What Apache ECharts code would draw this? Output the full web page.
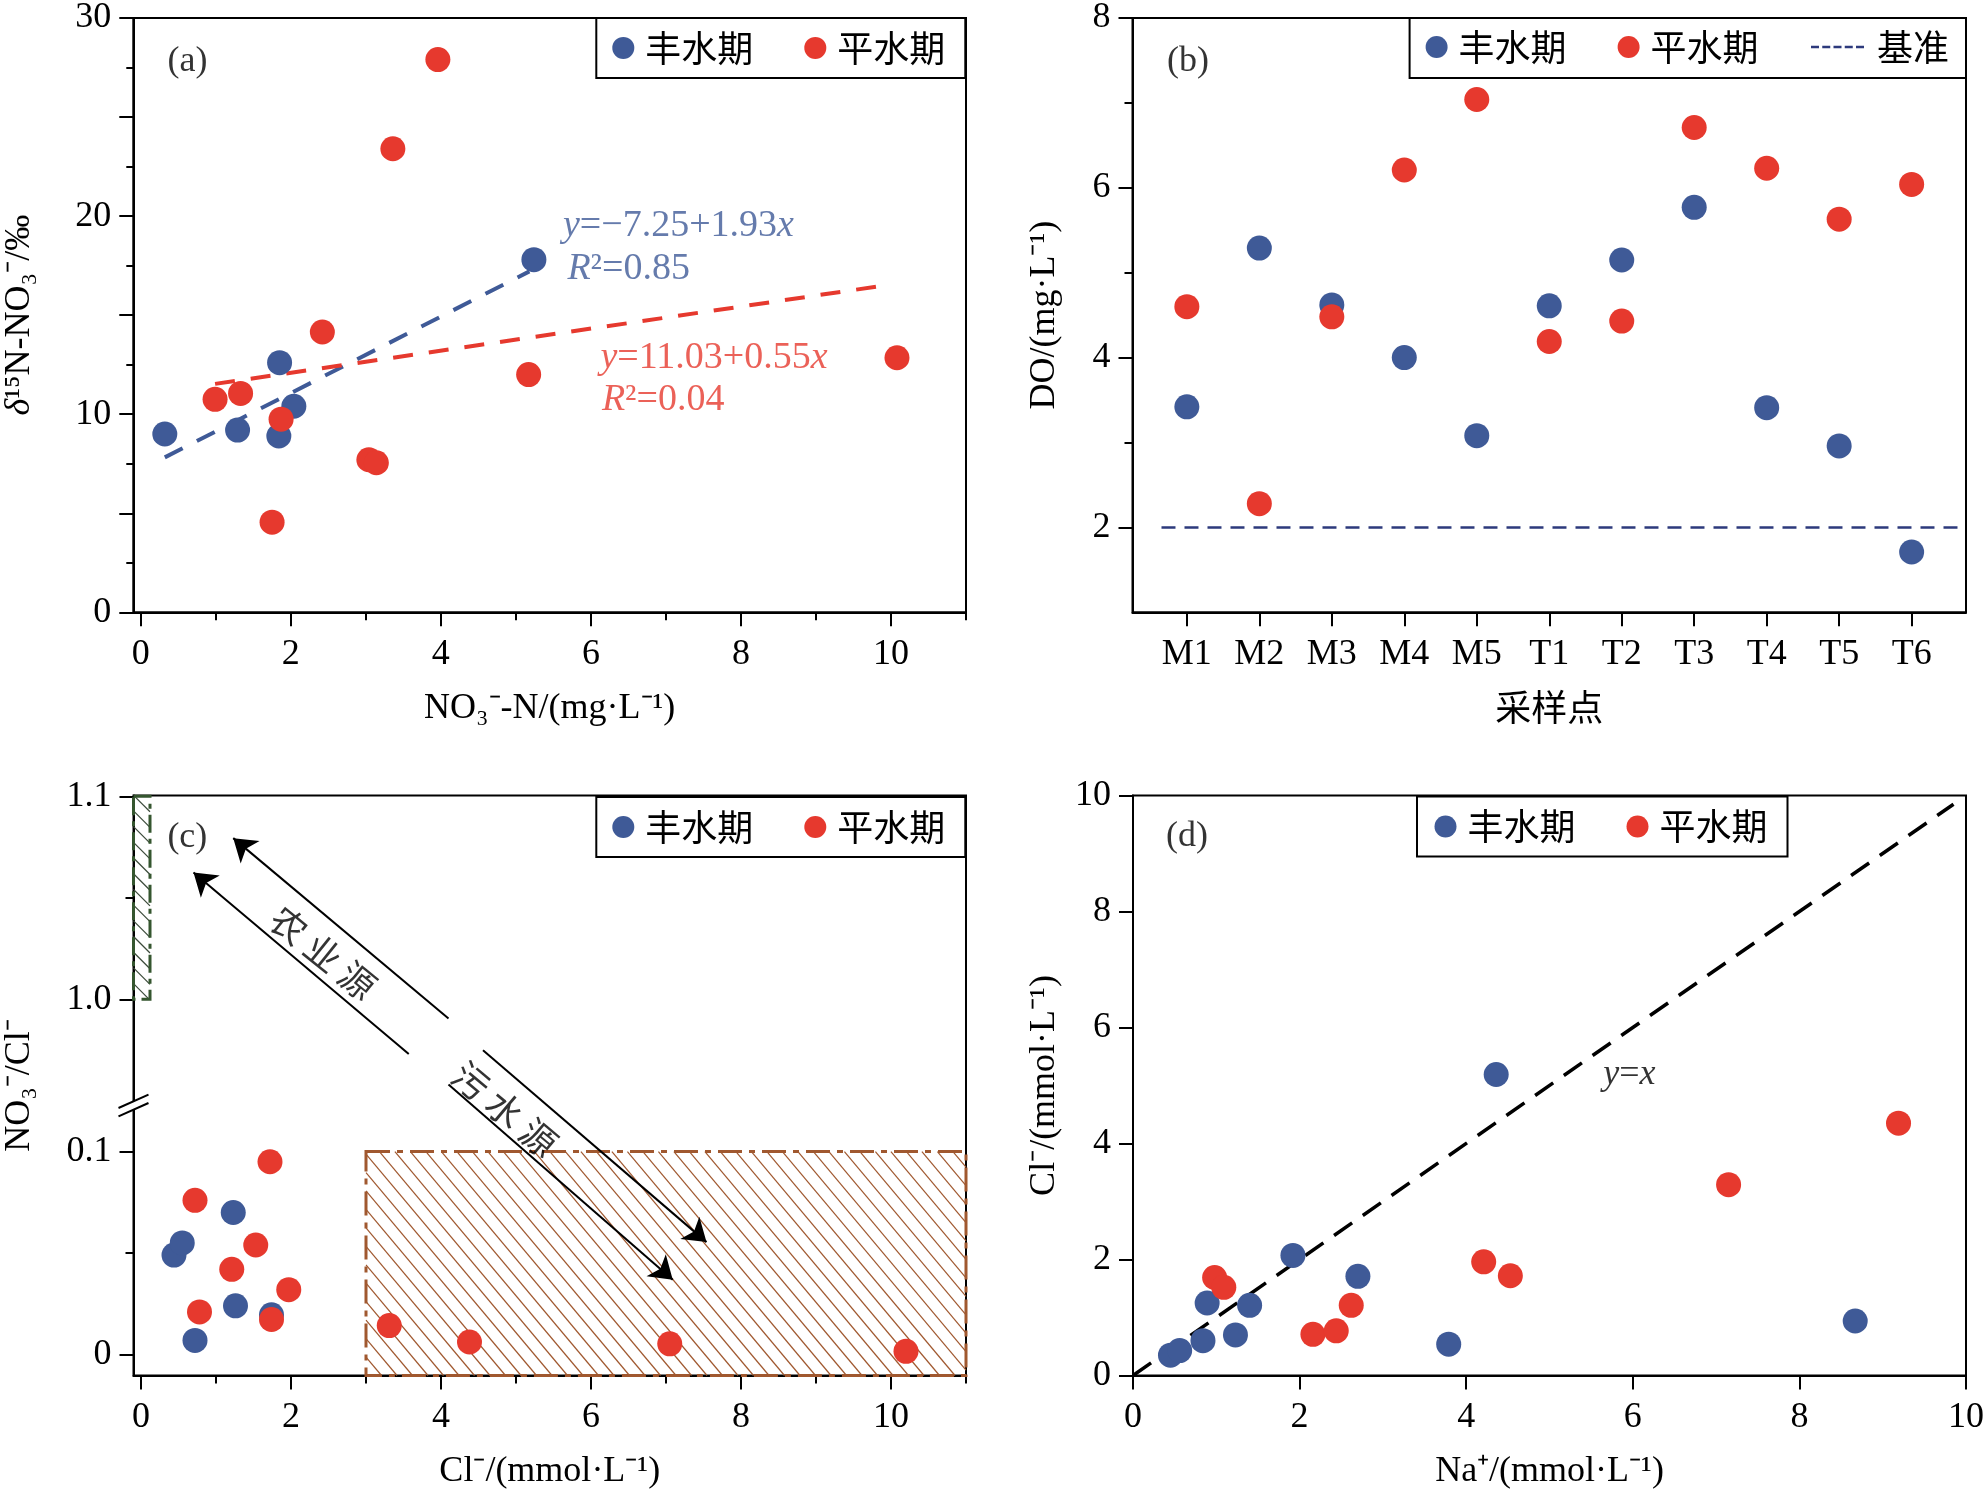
<!DOCTYPE html>
<html><head><meta charset="utf-8">
<script src="https://cdn.jsdelivr.net/npm/echarts@6/dist/echarts.min.js"></script>
<style>html,body{margin:0;padding:0;background:#fff}#c{width:1988px;height:1494px}</style>
</head><body><div id="c"></div>
<script>
// ---------------- DATA ----------------
// (a) δ15N-NO3 vs NO3-N
const aBlueX = [0.32, 1.29, 1.85, 1.84, 2.04, 5.24];
const aBlueY = [9.0, 9.2, 12.6, 8.9, 10.4, 17.8];
const aRedX = [3.96, 3.36, 2.42, 1.33, 0.99, 1.87, 3.04, 3.14, 1.75, 5.17, 10.08];
const aRedY = [27.9, 23.4, 14.15, 11.05, 10.75, 9.75, 7.7, 7.55, 4.55, 12.0, 12.85];
const aFitBlueX = [0.32, 5.18];
const aFitBlueY = [7.82, 17.21];
const aFitRedX = [0.99, 9.86];
const aFitRedY = [11.53, 16.47];
const aXMajor = [0, 2, 4, 6, 8, 10];
const aXMinor = [1, 3, 5, 7, 9, 11];
const aYLabels = [0, 10, 20, 30];

// (b) DO by sampling site
const sites = ['M1', 'M2', 'M3', 'M4', 'M5', 'T1', 'T2', 'T3', 'T4', 'T5', 'T6'];
const bBlue = [3.42, 5.29, 4.62, 4.00, 3.08, 4.61, 5.15, 5.77, 3.41, 2.96, 1.71];
const bRed = [4.60, 2.28, 4.48, 6.21, 7.04, 4.19, 4.43, 6.71, 6.23, 5.63, 6.04];
const bBaseX = [-0.35, 10.65];
const bBaseY = [2, 2];
const bYMajor = [2, 4, 6, 8];
const bYMinor = [3, 5, 7];

// (c) NO3/Cl vs Cl (broken y axis: 0–0.1 and 1.0–1.1)
const cBlueX = [0.44, 0.55, 1.23, 1.26, 0.72, 1.74];
const cBlueY = [0.049, 0.055, 0.070, 0.024, 0.007, 0.0196];
const cRedX = [1.72, 0.72, 1.53, 1.21, 1.97, 0.78, 1.74, 3.31, 4.38, 7.05, 10.2];
const cRedY = [0.095, 0.076, 0.054, 0.042, 0.032, 0.021, 0.0173, 0.0143, 0.0062, 0.0053, 0.0016];
const cXMajor = [0, 2, 4, 6, 8, 10];
const cXMinor = [1, 3, 5, 7, 9, 11];
const cYTickReal = [0, 0.1, 1.0, 1.1];
const cYTickText = ['0', '0.1', '1.0', '1.1'];
const cYMinorReal = [0.05, 1.05];
// regions [x0, x1, y0, y1] in real values
const cSewageRect = [3.0, 11, -0.0103, 0.1];
const cAgriRect = [-0.1, 0.12, 1.0, 1.1];
// arrows tail/head (y in real values of the broken axis)
const cArrowX0 = [4.10, 3.57, 4.56, 4.10];
const cArrowY0 = [0.9906, 0.1481, 0.1499, 0.1331];
const cArrowX1 = [1.23, 0.70, 7.54, 7.09];
const cArrowY1 = [1.0794, 1.0625, 0.0554, 0.0369];

// (d) Cl vs Na
const dBlueX = [0.45, 0.56, 0.84, 0.89, 1.23, 1.40, 1.92, 2.70, 3.79, 4.36, 8.67];
const dBlueY = [0.35, 0.43, 0.60, 1.25, 0.70, 1.21, 2.07, 1.71, 0.54, 5.19, 0.94];
const dRedX = [0.98, 1.09, 2.16, 2.44, 2.62, 4.21, 4.53, 7.15, 9.19];
const dRedY = [1.69, 1.52, 0.71, 0.77, 1.21, 1.96, 1.72, 3.29, 4.35];
const dRefX = [0, 9.85];
const dRefY = [0, 9.85];

// ---------------- STYLE ----------------
const SERIF = '"Liberation Serif","Times New Roman",serif';
const CJK = '"Noto Sans CJK SC","Noto Sans",sans-serif';
const BLUE = '#3f5a97', RED = '#e6392e', NAVY = '#2d3a7c', BROWN = '#a0582f', GREEN = '#35562f';
const FS = 36;     // tick labels / axis names
const FA = 38;     // annotations

const BREAK_SHIFT = 0.825;
const toDisp = v => (v >= 0.5 ? v - BREAK_SHIFT : v);
const C_YMIN = -0.0103, C_YMAX = 0.2754;

function merge(a, b) {
  const o = Array.isArray(a) ? a.slice() : Object.assign({}, a);
  for (const k in b) {
    if (b[k] && typeof b[k] === 'object' && !Array.isArray(b[k]) && typeof b[k] !== 'function' && a && a[k] && typeof a[k] === 'object' && !Array.isArray(a[k])) o[k] = merge(a[k], b[k]);
    else o[k] = b[k];
  }
  return o;
}
const pts = (xs, ys, f) => xs.map((x, i) => [x, f ? f(ys[i]) : ys[i]]);

function axisBase(gi, pos, extra) {
  return merge({
    type: 'value', gridIndex: gi, position: pos,
    axisLine: {show: true, onZero: false, lineStyle: {color: '#000', width: 2}},
    axisTick: {show: true, inside: false, length: 14, lineStyle: {color: '#000', width: 2}},
    axisLabel: {show: true, color: '#000', fontFamily: SERIF, fontSize: FS, margin: pos === 'bottom' ? 24 : 22},
    splitLine: {show: false},
    nameLocation: 'middle',
    nameTextStyle: {color: '#000', fontFamily: SERIF, fontSize: FS}
  }, extra);
}
function minorAxis(gi, pos, min, max, vals) {
  return {type: 'value', gridIndex: gi, position: pos, min, max, offset: 0,
    axisLine: {show: false, onZero: false}, axisLabel: {show: false},
    axisTick: {show: true, inside: false, length: 8, customValues: vals, lineStyle: {color: '#000', width: 2}},
    splitLine: {show: false}};
}
function scat(name, xi, yi, data, color) {
  return {type: 'scatter', name, xAxisIndex: xi, yAxisIndex: yi, data, symbol: 'circle', symbolSize: 25,
    itemStyle: {color, opacity: 1}, emphasis: {disabled: true}, z: 4};
}
function dashLine(name, xi, yi, data, color, width, dash) {
  return {type: 'line', name, xAxisIndex: xi, yAxisIndex: yi, data, symbol: 'none', showSymbol: false,
    lineStyle: {color, width, type: dash}, itemStyle: {color}, z: 3, silent: true};
}
const RICH = {
  bi: {fontFamily: SERIF, fontSize: FA, fontStyle: 'italic', color: BLUE},
  bn: {fontFamily: SERIF, fontSize: FA, color: BLUE},
  ri: {fontFamily: SERIF, fontSize: FA, fontStyle: 'italic', color: RED},
  rn: {fontFamily: SERIF, fontSize: FA, color: RED},
  ki: {fontFamily: SERIF, fontSize: FS, fontStyle: 'italic', color: '#000'},
  kn: {fontFamily: SERIF, fontSize: FS, color: '#000'},
  zh: {fontFamily: CJK, fontSize: 36, color: '#000'}
};
function texts(xi, yi, items) {
  return {type: 'scatter', xAxisIndex: xi, yAxisIndex: yi, symbolSize: 1, silent: true, z: 10,
    itemStyle: {color: 'rgba(0,0,0,0)'},
    label: {show: true, color: '#000', fontFamily: SERIF, fontSize: FS, rich: RICH},
    data: items.map(t => ({value: [t.x, t.y], label: {show: true, formatter: t.text, position: t.pos || 'right', distance: 0, rotate: t.rot || 0}}))};
}
function hatchRender(styleList) {
  return function (params, api) {
    const st = styleList[params.dataIndex];
    const pA = api.coord([api.value(0), api.value(3)]);
    const pB = api.coord([api.value(1), api.value(2)]);
    const L = pA[0], T = pA[1], R = pB[0], B = pB[1], h = B - T, k = st.k, s = st.gap;
    const ch = [];
    for (let c = L - k * h; c <= R; c += s) {
      const t0 = Math.max(0, (L - c) / k), t1 = Math.min(h, (R - c) / k);
      if (t1 > t0) ch.push({type: 'line', shape: {x1: c + k * t0, y1: T + t0, x2: c + k * t1, y2: T + t1},
        style: {stroke: st.hatch, lineWidth: 1.2}});
    }
    ch.push({type: 'rect', shape: {x: L, y: T, width: R - L, height: h},
      style: {fill: null, stroke: st.border, lineWidth: 3, lineDash: st.dash}});
    return {type: 'group', children: ch};
  };
}
function breakRender(params, api) {
  const p = api.coord([api.value(0), api.value(1)]);
  return {type: 'group', children: [
    {type: 'rect', shape: {x: p[0] - 4, y: p[1] - 4.5, width: 8, height: 8.8}, style: {fill: '#fff'}},
    {type: 'line', shape: {x1: p[0] - 15, y1: p[1] + 2.3, x2: p[0] + 15, y2: p[1] - 11}, style: {stroke: '#000', lineWidth: 2}},
    {type: 'line', shape: {x1: p[0] - 15, y1: p[1] + 10.7, x2: p[0] + 15, y2: p[1] - 2.7}, style: {stroke: '#000', lineWidth: 2}}
  ]};
}

const legendText = {fontFamily: CJK, fontSize: 36, color: '#000', padding: [0, 0, 0, 6]};
function circleLegend(left, top, extra) {
  return merge({data: [{name: '丰水期', icon: 'circle'}, {name: '平水期', icon: 'circle'}],
    left, top, orient: 'horizontal', itemWidth: 22, itemHeight: 22, itemGap: 51,
    padding: [12, 20, 12, 16], borderColor: '#000', borderWidth: 2, backgroundColor: '#fff',
    textStyle: legendText, selectedMode: false}, extra || {});
}
// dashed-line legend icon (5 dashes)
const DASH_ICON = 'path://M0,0h8v2.5h-8z M11.25,0h8v2.5h-8z M22.5,0h8v2.5h-8z M33.75,0h8v2.5h-8z M45,0h8v2.5h-8z';

const chart = echarts.init(document.getElementById('c'), null, {renderer: 'canvas'});
const option = {
  backgroundColor: '#fff',
  animation: false,
  grid: [
    {left: 133.3, top: 16.7, width: 832.7, height: 595.6},
    {left: 1132.5, top: 16.7, width: 833.5, height: 595.6},
    {left: 133.5, top: 795.5, width: 832.5, height: 580},
    {left: 1133, top: 795.5, width: 833, height: 580}
  ].map(g => Object.assign({show: true, borderColor: '#000', borderWidth: 2, backgroundColor: 'transparent'}, g)),
  xAxis: [
    axisBase(0, 'bottom', {min: -0.1, max: 11, name: 'NO₃⁻-N/(mg·L⁻¹)', nameGap: 78,
      axisTick: {customValues: aXMajor}, axisLabel: {customValues: aXMajor}}),
    minorAxis(0, 'bottom', -0.1, 11, aXMinor),
    axisBase(1, 'bottom', {min: -0.75, max: 10.75, name: '采样点', nameGap: 77,
      nameTextStyle: {fontFamily: CJK, fontSize: 36},
      axisTick: {customValues: sites.map((s, i) => i)},
      axisLabel: {customValues: sites.map((s, i) => i), formatter: v => sites[Math.round(v)]}}),
    axisBase(2, 'bottom', {min: -0.1, max: 11, name: 'Cl⁻/(mmol·L⁻¹)', nameGap: 78,
      axisTick: {customValues: cXMajor}, axisLabel: {customValues: cXMajor}}),
    minorAxis(2, 'bottom', -0.1, 11, cXMinor),
    axisBase(3, 'bottom', {min: 0, max: 10, interval: 2, name: 'Na⁺/(mmol·L⁻¹)', nameGap: 78})
  ],
  yAxis: [
    axisBase(0, 'left', {min: 0, max: 30, interval: 5, name: '{i|δ}{n|¹⁵N-NO₃⁻/‰}', nameGap: 96,
      nameTextStyle: {rich: {i: {fontFamily: SERIF, fontSize: FS, fontStyle: 'italic'}, n: {fontFamily: SERIF, fontSize: FS}}},
      minorTick: {show: true, splitNumber: 2, length: 7, lineStyle: {color: '#000', width: 2}},
      axisLabel: {customValues: aYLabels}}),
    axisBase(1, 'left', {min: 1, max: 8, name: 'DO/(mg·L⁻¹)', nameGap: 70,
      axisTick: {customValues: bYMajor}, axisLabel: {customValues: bYMajor}}),
    minorAxis(1, 'left', 1, 8, bYMinor),
    axisBase(2, 'left', {min: C_YMIN, max: C_YMAX, name: 'NO₃⁻/Cl⁻', nameGap: 96,
      axisTick: {customValues: cYTickReal.map(toDisp)},
      axisLabel: {customValues: cYTickReal.map(toDisp), formatter: v => {
        const d = cYTickReal.map(toDisp); let bi = 0;
        d.forEach((t, i) => { if (Math.abs(t - v) < Math.abs(d[bi] - v)) bi = i; });
        return cYTickText[bi];
      }}}),
    minorAxis(2, 'left', C_YMIN, C_YMAX, cYMinorReal.map(toDisp)),
    axisBase(3, 'left', {min: 0, max: 10, interval: 2, name: 'Cl⁻/(mmol·L⁻¹)', nameGap: 70})
  ],
  legend: [
    circleLegend(596.3, 17.9),
    circleLegend(1409.6, 17, {borderWidth: 0, padding: [12, 0, 12, 16], backgroundColor: 'transparent'}),
    {data: [{name: '基准', icon: DASH_ICON}], left: 1811, top: 17, orient: 'horizontal', itemWidth: 53, itemHeight: 22,
      symbolKeepAspect: true,
      padding: [12, 0, 12, 0], textStyle: merge(legendText, {padding: [0, 0, 0, 8]}), selectedMode: false},
    circleLegend(596.3, 797),
    circleLegend(1417, 796.5, {padding: [12, 20, 12, 17.5]})
  ],
  graphic: [
    {type: 'rect', shape: {x: 1409.6, y: 17.9, width: 556.4, height: 60}, style: {fill: null, stroke: '#000', lineWidth: 2}, z: 100}
  ],
  series: [
    // (a)
    scat('丰水期', 0, 0, pts(aBlueX, aBlueY), BLUE),
    scat('平水期', 0, 0, pts(aRedX, aRedY), RED),
    dashLine('fitBlue', 0, 0, pts(aFitBlueX, aFitBlueY), BLUE, 4, [20, 16]),
    dashLine('fitRed', 0, 0, pts(aFitRedX, aFitRedY), RED, 4, [20, 16]),
    texts(0, 0, [
      {x: 0.35, y: 27.8, text: '{kn|(a)}'},
      {x: 5.62, y: 19.5, text: '{bi|y}{bn|=−7.25+1.93}{bi|x}'},
      {x: 5.68, y: 17.35, text: '{bi|R}{bn|²=0.85}'},
      {x: 6.12, y: 12.86, text: '{ri|y}{rn|=11.03+0.55}{ri|x}'},
      {x: 6.14, y: 10.7, text: '{ri|R}{rn|²=0.04}'}
    ]),
    // (b)
    scat('丰水期', 2, 1, bBlue.map((v, i) => [i, v]), BLUE),
    scat('平水期', 2, 1, bRed.map((v, i) => [i, v]), RED),
    dashLine('基准', 2, 1, pts(bBaseX, bBaseY), NAVY, 2.5, [14, 9]),
    texts(2, 1, [{x: -0.28, y: 7.49, text: '{kn|(b)}'}]),
    // (c)
    {type: 'custom', xAxisIndex: 3, yAxisIndex: 3, clip: false, silent: true, z: 1,
      renderItem: hatchRender([
        {k: 0.84, gap: 15.5, hatch: BROWN, border: BROWN, dash: [24, 7, 6, 7]},
        {k: 1.0, gap: 15.7, hatch: '#3b4a3a', border: GREEN, dash: [18, 6, 5, 6]}
      ]),
      encode: {x: [0, 1], y: [2, 3]},
      data: [
        [cSewageRect[0], cSewageRect[1], toDisp(cSewageRect[2]), toDisp(cSewageRect[3])],
        [cAgriRect[0], cAgriRect[1], toDisp(cAgriRect[2]), toDisp(cAgriRect[3])]
      ]},
    {type: 'lines', coordinateSystem: 'cartesian2d', xAxisIndex: 3, yAxisIndex: 3, silent: true, z: 5,
      symbol: ['none', 'arrow'], symbolSize: [14, 22],
      lineStyle: {color: '#000', width: 2, opacity: 1, curveness: 0},
      data: cArrowX0.map((x, i) => ({coords: [[x, toDisp(cArrowY0[i])], [cArrowX1[i], toDisp(cArrowY1[i])]]}))},
    scat('丰水期', 3, 3, pts(cBlueX, cBlueY, toDisp), BLUE),
    scat('平水期', 3, 3, pts(cRedX, cRedY, toDisp), RED),
    texts(3, 3, [
      {x: 0.345, y: toDisp(1.0799), text: '{kn|(c)}'},
      {x: 2.427, y: toDisp(1.0229), text: '{zh|农 业 源}', pos: 'inside', rot: -39},
      {x: 4.851, y: toDisp(0.1209), text: '{zh|污 水 源}', pos: 'inside', rot: -40}
    ]),
    {type: 'custom', xAxisIndex: 3, yAxisIndex: 3, clip: false, silent: true, z: 20,
      renderItem: breakRender, data: [[-0.1, 0.1226]]},
    // (d)
    dashLine('ref', 5, 5, pts(dRefX, dRefY), '#000', 3.5, [22, 13]),
    scat('丰水期', 5, 5, pts(dBlueX, dBlueY), BLUE),
    scat('平水期', 5, 5, pts(dRedX, dRedY), RED),
    texts(5, 5, [
      {x: 0.39, y: 9.3, text: '{kn|(d)}'},
      {x: 5.64, y: 5.19, text: '{ki|y}{kn|=}{ki|x}'}
    ])
  ]
};
chart.setOption(option);
</script></body></html>
